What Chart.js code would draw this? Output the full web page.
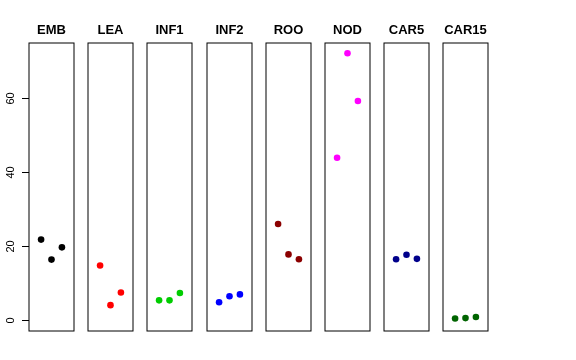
<!DOCTYPE html>
<html lang="en">
<head>
  <meta charset="UTF-8">
  <title>Panels</title>
  <script src="https://cdn.jsdelivr.net/npm/chart.js"></script>
  <style>
    body { margin: 0; background: white; }
    #wrap { position: relative; width: 576px; height: 360px; overflow: hidden; }
    .panel { position: absolute; top: 0; height: 360px; }
  </style>
</head>
<body>
  <div id="wrap"></div>
  <script>
    // one panel per sample, three points each
    const groups = ['EMB', 'LEA', 'INF1', 'INF2', 'ROO', 'NOD', 'CAR5', 'CAR15'];
    const groupColors = ['#000000', '#FF0000', '#00CD00', '#0000FF', '#8B0000', '#FF00FF', '#00008B', '#006400'];
    const xPositions = [1, 2, 3];
    const values = {
      EMB:   [21.8, 16.4, 19.7],
      LEA:   [14.8, 4.1, 7.5],
      INF1:  [5.4, 5.4, 7.4],
      INF2:  [4.9, 6.5, 7.0],
      ROO:   [26.0, 17.8, 16.5],
      NOD:   [43.9, 72.1, 59.2],
      CAR5:  [16.5, 17.7, 16.6],
      CAR15: [0.5, 0.6, 0.9]
    };
    const yTicks = [0, 20, 40, 60];

    const yMin = -2.88, yMax = 74.88;
    const panelLeft = 29, panelPitch = 59.2, panelWidth = 45;
    const side = 10;

    // frame + title, and for the first panel the left axis
    const panelDecor = {
      id: 'panelDecor',
      afterDraw(chart, args, opts) {
        const { ctx, chartArea: a } = chart;
        ctx.save();
        ctx.strokeStyle = '#000';
        ctx.lineWidth = 1;
        ctx.strokeRect(a.left, a.top, a.right - a.left, a.bottom - a.top);
        ctx.fillStyle = '#000';
        ctx.font = 'bold 13px "Liberation Sans", Arial, sans-serif';
        ctx.textAlign = 'center';
        ctx.textBaseline = 'alphabetic';
        ctx.fillText(opts.title, (a.left + a.right) / 2, 34);
        if (opts.axis) {
          const y = chart.scales.y;
          ctx.font = '11px "Liberation Sans", Arial, sans-serif';
          ctx.textBaseline = 'middle';
          yTicks.forEach(t => {
            const py = Math.round(y.getPixelForValue(t)) + 0.5;
            ctx.beginPath();
            ctx.moveTo(a.left - 7, py);
            ctx.lineTo(a.left, py);
            ctx.stroke();
            ctx.save();
            ctx.translate(11, py);
            ctx.rotate(-Math.PI / 2);
            ctx.fillText(String(t), 0, 0);
            ctx.restore();
          });
        }
        ctx.restore();
      }
    };

    const wrap = document.getElementById('wrap');
    groups.forEach((g, i) => {
      const first = i === 0;
      const left = panelLeft + panelPitch * i;
      const div = document.createElement('div');
      div.className = 'panel';
      const boxLeft = first ? 0 : left - side;
      div.style.left = boxLeft + 'px';
      div.style.width = (left + panelWidth + side - boxLeft) + 'px';
      const canvas = document.createElement('canvas');
      div.appendChild(canvas);
      wrap.appendChild(div);

      new Chart(canvas, {
        type: 'scatter',
        data: {
          datasets: [{
            data: xPositions.map((x, j) => ({ x: x, y: values[g][j] })),
            backgroundColor: groupColors[i],
            borderColor: groupColors[i],
            pointRadius: 3.3,
            pointHoverRadius: 3.3,
            borderWidth: 0
          }]
        },
        options: {
          responsive: true,
          maintainAspectRatio: false,
          animation: false,
          layout: {
            padding: { left: left - boxLeft, right: side, top: 43, bottom: 29 }
          },
          plugins: {
            legend: { display: false },
            tooltip: { enabled: false },
            panelDecor: { title: g, axis: first }
          },
          scales: {
            x: { type: 'linear', min: -0.16, max: 4.16, display: false },
            y: { type: 'linear', min: yMin, max: yMax, display: false }
          }
        },
        plugins: [panelDecor]
      });
    });
  </script>
</body>
</html>
